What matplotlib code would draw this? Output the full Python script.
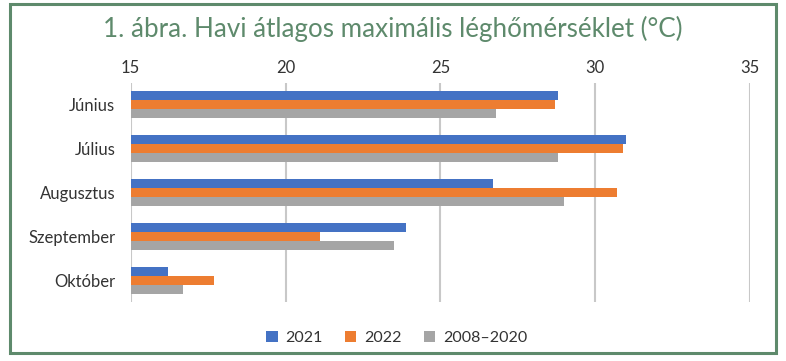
import numpy as np
import matplotlib
matplotlib.use("Agg")
import matplotlib.pyplot as plt
from matplotlib.patches import Rectangle

months = ["Június", "Július", "Augusztus", "Szeptember", "Október"]
series_names = ["2021", "2022", "2008–2020"]
temp_2021 = [28.8, 31.0, 26.7, 23.9, 16.2]
temp_2022 = [28.7, 30.9, 30.7, 21.1, 17.7]
temp_avg = [26.8, 28.8, 29.0, 23.5, 16.7]
colors = ["#4472C4", "#ED7D31", "#A5A5A5"]

plt.rcParams['font.family'] = ['Lato', 'DejaVu Sans']

fig = plt.figure(figsize=(7.86, 3.61), dpi=100)
ax = fig.add_axes([0.1663, 0.1634, 0.7879, 0.6066])

y = np.arange(len(months))
h = 0.205
for i, (vals, name) in enumerate(zip([temp_2021, temp_2022, temp_avg], series_names)):
    ax.barh(y + (i - 1) * h, np.array(vals) - 15, left=15, height=h,
            color=colors[i], label=name, zorder=3)

ax.set_xlim(15, 35)
ax.set_ylim(len(months) - 0.5, -0.5)
ax.set_xticks([15, 20, 25, 30, 35])
ax.set_yticks(y)
ax.set_yticklabels(months)
ax.xaxis.tick_top()
ax.tick_params(length=0, labelsize=12, colors="#333333")
ax.tick_params(axis="x", pad=5)
ax.tick_params(axis="y", pad=11)
ax.grid(axis="x", color="#c8c8c8", linewidth=1.5, zorder=0)
for s in ax.spines.values():
    s.set_visible(False)

fig.text(0.5, 0.92, "1. ábra. Havi átlagos maximális léghőmérséklet (°C)",
         ha="center", va="center", fontsize=18.7, color="#5e8a6c")

ax.legend(loc="center", bbox_to_anchor=(0.43, -0.165), ncol=3, frameon=False,
          fontsize=11.5, handlelength=0.7, handleheight=0.7, columnspacing=1.4,
          handletextpad=0.5, labelcolor="#333333")

fig.add_artist(Rectangle((10 / 786, 1 - 353 / 361), 766 / 786, 349 / 361,
                         transform=fig.transFigure, fill=False,
                         edgecolor="#5e8a6c", linewidth=2.2))

fig.savefig("out.png", dpi=100)
